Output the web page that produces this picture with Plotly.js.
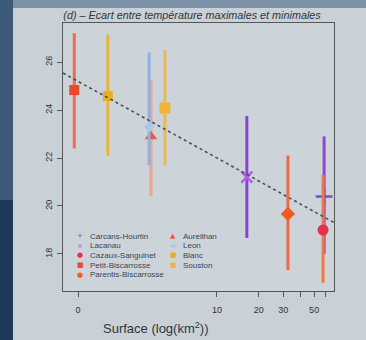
<!DOCTYPE html>
<html>
<head>
<meta charset="utf-8">
<script src="https://cdn.plot.ly/plotly-3.0.1.min.js"></script>
<style>
  html, body { margin: 0; padding: 0; background: #c9d0d6; }
  #chart { width: 366px; height: 340px; }
</style>
</head>
<body>
<div id="chart"></div>
<script>
// ---- data ----
const lakes = ["Carcans-Hourtin", "Lacanau", "Cazaux-Sanguinet", "Petit-Biscarrosse", "Parentis-Biscarrosse",
               "Aureilhan", "Leon", "Blanc", "Souston"];
const surface = [59, 16.4, 58, 0.94, 32.4, 3.35, 3.25, 1.64, 4.22];      // km²
const meanGap = [20.4, 21.2, 19.0, 24.83, 19.67, 22.9, 23.3, 24.58, 24.08];
const upperGap = [22.9, 23.75, 21.3, 27.2, 22.1, 25.25, 26.4, 27.15, 26.5];
const lowerGap = [18.0, 18.67, 16.8, 22.4, 17.33, 20.4, 21.7, 22.1, 21.7];
const fitX = [0.78, 70.6];
const fitY = [25.54, 19.29];
const xTickVals = [1, 10, 20, 30, 50];
const xTickText = ["0", "10", "20", "30", "50"];
const xMinorTickVals = [40, 60];
const yTickVals = [18, 20, 22, 24, 26];

// ---- styles ----
const markerColors = ["#7a4ad8", "#b05ce6", "#e8304a", "#e84a2a", "#f05a1e", "#e85a3a", "#a8c8f0", "#e8b020", "#f0b43c"];
const barColors    = ["#8b48d8", "#8a44d4", "#f07848", "#f06a52", "#ee6a48", "#f0a58a", "#8fb3e0", "#e8b636", "#f0b850"];
const symbols      = ["cross-thin-open", "x-thin-open", "circle", "square", "diamond", "triangle-up", "diamond", "square", "square"];
const sizes        = [12, 11, 11, 10, 11, 11, 8, 10, 11];
const legendGlyphs = ["+", "×", "●", "■", "●", "▲", "▬", "■", "■"];

// pixel geometry of the plot area
const L = 63, R = 334, T = 23, B = 291, W = 366, H = 340;
const pw = R - L, ph = B - T;
const px = v => (v - L) / pw;
const py = v => (B - v) / ph;

const traces = [];
lakes.forEach((name, i) => {
  const open = symbols[i].indexOf("open") >= 0;
  traces.push({
    type: "scatter", mode: "markers", name: name, showlegend: false,
    x: [surface[i]], y: [meanGap[i]],
    error_y: {
      type: "data", symmetric: false,
      array: [upperGap[i] - meanGap[i]], arrayminus: [meanGap[i] - lowerGap[i]],
      color: barColors[i], thickness: 3, width: 0
    },
    marker: open
      ? { symbol: symbols[i], size: sizes[i], color: markerColors[i], line: { color: markerColors[i], width: 2.5 } }
      : { symbol: symbols[i], size: sizes[i], color: markerColors[i], line: { width: 0 } }
  });
});
traces.push({
  type: "scatter", mode: "lines", x: fitX, y: fitY, showlegend: false,
  line: { color: "#46525f", width: 1.6, dash: "3px,3px" }
});

// legend drawn as text annotations (two columns)
const annotations = [];
const legendCols = [{ sx: 80, tx: 88 }, { sx: 173, tx: 181 }];
lakes.forEach((name, i) => {
  const col = i < 5 ? 0 : 1;
  const row = i < 5 ? i : i - 5;
  const yy = 236 + row * 9.7;
  annotations.push({
    xref: "paper", yref: "paper", x: px(legendCols[col].sx), y: py(yy),
    xanchor: "center", yanchor: "middle", showarrow: false,
    text: legendGlyphs[i], font: { family: "DejaVu Sans", size: 7, color: markerColors[i] }
  });
  annotations.push({
    xref: "paper", yref: "paper", x: px(legendCols[col].tx), y: py(yy),
    xanchor: "left", yanchor: "middle", showarrow: false,
    text: name, font: { family: "Liberation Sans, Arial", size: 8, color: "#3a4654" }
  });
});
annotations.push({
  xref: "paper", yref: "paper", x: px(155), y: py(328),
  xanchor: "center", yanchor: "middle", showarrow: false,
  text: "Surface (log(km<sup>2</sup>))", font: { family: "Liberation Sans, Arial", size: 13, color: "#2e3640" }
});

const layout = {
  width: W, height: H,
  margin: { l: L, r: W - R, t: T, b: H - B, pad: 0 },
  paper_bgcolor: "#c9d0d6",
  plot_bgcolor: "#ccd3d9",
  font: { family: "Liberation Sans, Arial", color: "#333" },
  title: {
    text: "<i>(d) – Ecart entre température maximales et minimales</i>",
    font: { family: "Liberation Sans, Arial", size: 10.8, color: "#2e3640" },
    xref: "paper", x: px(192), xanchor: "center",
    yref: "container", y: 1 - 15 / H, yanchor: "middle"
  },
  xaxis: {
    type: "log", range: [-0.108, 1.842],
    tickmode: "array", tickvals: xTickVals, ticktext: xTickText,
    ticks: "outside", ticklen: 5, tickcolor: "#555", tickwidth: 1,
    minor: { tickmode: "array", tickvals: xMinorTickVals, ticks: "outside", ticklen: 5, tickcolor: "#555", tickwidth: 1, showgrid: false },
    showline: true, linecolor: "#555", linewidth: 1, mirror: true,
    showgrid: false, zeroline: false,
    tickfont: { size: 9, color: "#333" }, ticklabelstandoff: 5
  },
  yaxis: {
    range: [16.458, 27.625],
    tickmode: "array", tickvals: yTickVals,
    ticks: "outside", ticklen: 5, tickcolor: "#555", tickwidth: 1, tickangle: -90,
    showline: true, linecolor: "#555", linewidth: 1, mirror: true,
    showgrid: false, zeroline: false,
    tickfont: { size: 9, color: "#333" }, ticklabelstandoff: 1
  },
  shapes: [
    { type: "rect", xref: "paper", yref: "paper", x0: px(0), x1: px(13), y0: py(H), y1: py(0),
      fillcolor: "#3d5a78", line: { width: 0 }, layer: "below" },
    { type: "rect", xref: "paper", yref: "paper", x0: px(0), x1: px(13), y0: py(H), y1: py(200),
      fillcolor: "#1f3858", line: { width: 0 }, layer: "below" },
    { type: "rect", xref: "paper", yref: "paper", x0: px(13), x1: px(W), y0: py(8), y1: py(0),
      fillcolor: "#7d92a6", line: { width: 0 }, layer: "below" }
  ],
  annotations: annotations,
  showlegend: false
};

Plotly.newPlot("chart", traces, layout, { displayModeBar: false, staticPlot: true });
</script>
</body>
</html>
